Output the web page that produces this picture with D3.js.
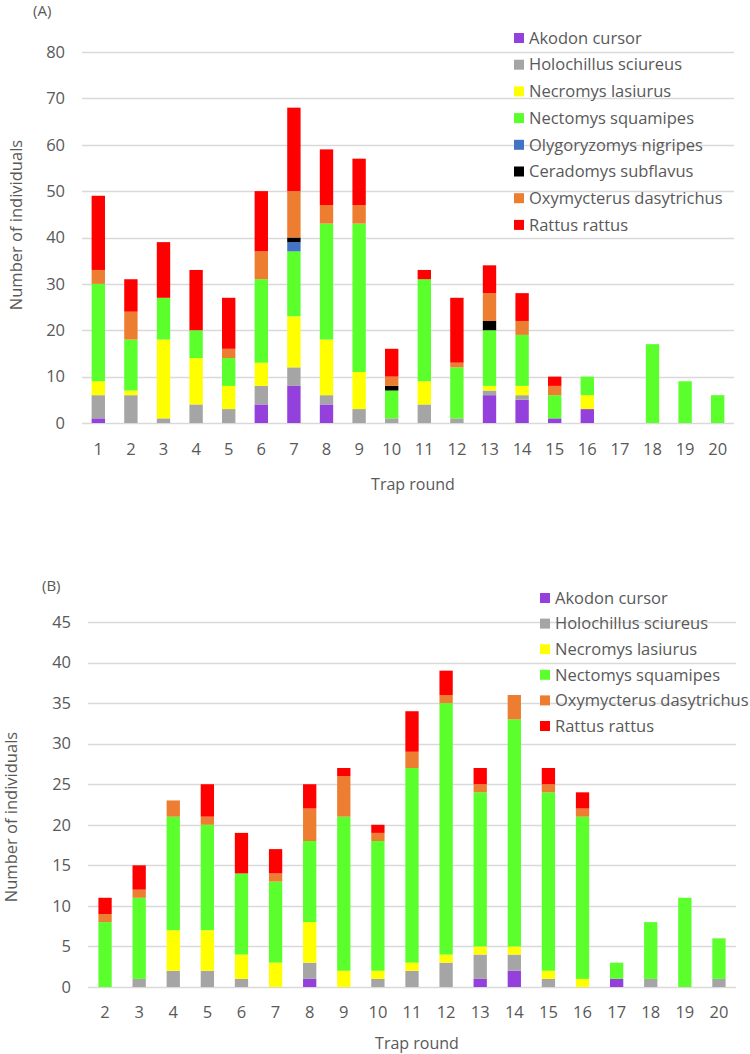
<!DOCTYPE html>
<html><head><meta charset="utf-8">
<script src="https://cdn.jsdelivr.net/npm/d3@7"></script>
<style>body{margin:0;background:#fff}svg text{font-family:"Open Sans",sans-serif;fill:#595959}</style>
</head><body>
<svg id="c" width="750" height="1054"></svg>
<script>
// ---- Data ----
const speciesA = ["Akodon cursor","Holochillus sciureus","Necromys lasiurus","Nectomys squamipes","Olygoryzomys nigripes","Ceradomys subflavus","Oxymycterus dasytrichus","Rattus rattus"];
const speciesB = ["Akodon cursor","Holochillus sciureus","Necromys lasiurus","Nectomys squamipes","Oxymycterus dasytrichus","Rattus rattus"];
const colors = {"Akodon cursor":"#9440dd","Holochillus sciureus":"#a5a5a5","Necromys lasiurus":"#ffff00","Nectomys squamipes":"#5bff2b","Olygoryzomys nigripes":"#4472c4","Ceradomys subflavus":"#000000","Oxymycterus dasytrichus":"#ed7d31","Rattus rattus":"#ff0000"};

const roundsA = [1,2,3,4,5,6,7,8,9,10,11,12,13,14,15,16,17,18,19,20];
const akodonA      = [1,0,0,0,0,4,8,4,0,0,0,0,6,5,1,3,0,0,0,0];
const holochillusA = [5,6,1,4,3,4,4,2,3,1,4,1,1,1,0,0,0,0,0,0];
const necromysA    = [3,1,17,10,5,5,11,12,8,0,5,0,1,2,0,3,0,0,0,0];
const nectomysA    = [21,11,9,6,6,18,14,25,32,6,22,11,12,11,5,4,0,17,9,6];
const olygoA       = [0,0,0,0,0,0,2,0,0,0,0,0,0,0,0,0,0,0,0,0];
const ceradomysA   = [0,0,0,0,0,0,1,0,0,1,0,0,2,0,0,0,0,0,0,0];
const oxymycterusA = [3,6,0,0,2,6,10,4,4,2,0,1,6,3,2,0,0,0,0,0];
const rattusA      = [16,7,12,13,11,13,18,12,10,6,2,14,6,6,2,0,0,0,0,0];
const ticksA = [0,10,20,30,40,50,60,70,80];

const roundsB = [2,3,4,5,6,7,8,9,10,11,12,13,14,15,16,17,18,19,20];
const akodonB      = [0,0,0,0,0,0,1,0,0,0,0,1,2,0,0,1,0,0,0];
const holochillusB = [0,1,2,2,1,0,2,0,1,2,3,3,2,1,0,0,1,0,1];
const necromysB    = [0,0,5,5,3,3,5,2,1,1,1,1,1,1,1,0,0,0,0];
const nectomysB    = [8,10,14,13,10,10,10,19,16,24,31,19,28,22,20,2,7,11,5];
const oxymycterusB = [1,1,2,1,0,1,4,5,1,2,1,1,3,1,1,0,0,0,0];
const rattusB      = [2,3,0,4,5,3,3,1,1,5,3,2,0,2,2,0,0,0,0];
const ticksB = [0,5,10,15,20,25,30,35,40,45];

const svg = d3.select("#c");

function panel(cfg){
  const {rounds, species, series, ticks, ymax, x0, x1, y0, y1, label, labelPos, legend, ytitle, xtitle} = cfg;
  const rows = rounds.map((r,i)=>{const o={round:String(r)}; species.forEach((s,k)=>o[s]=series[k][i]); return o;});
  const x = d3.scaleBand().domain(rounds.map(String)).range([x0,x1]).paddingInner(cfg.pad).paddingOuter(cfg.pad/2);
  const y = d3.scaleLinear().domain([0,ymax]).range([y0,y1]);
  const g = svg.append("g");
  // grid
  g.append("g").selectAll("line").data(ticks).join("line")
    .attr("x1",x0).attr("x2",x1).attr("y1",d=>Math.round(y(d))+0.5).attr("y2",d=>Math.round(y(d))+0.5)
    .attr("stroke","#d9d9d9").attr("stroke-width",1.3);
  // y axis labels
  const ya = g.append("g").attr("transform",`translate(${x0-10},0)`)
    .call(d3.axisLeft(y).tickValues(ticks).tickSize(0).tickPadding(7));
  ya.select(".domain").remove();
  ya.selectAll("text").attr("font-size",16.5).style("fill","#595959").attr("font-family","Open Sans");
  // x axis labels
  const xa = g.append("g").attr("transform",`translate(0,${y0})`)
    .call(d3.axisBottom(x).tickSize(0).tickPadding(cfg.xpad));
  xa.select(".domain").remove();
  xa.selectAll("text").attr("font-size",16.5).style("fill","#595959").attr("font-family","Open Sans");
  // stacks
  const stack = d3.stack().keys(species)(rows);
  g.append("g").selectAll("g").data(stack).join("g").attr("fill",d=>colors[d.key])
    .selectAll("rect").data(d=>d).join("rect")
    .attr("x",d=>x(d.data.round)).attr("width",x.bandwidth())
    .attr("y",d=>y(d[1])).attr("height",d=>Math.max(0,y(d[0])-y(d[1])));
  // titles
  g.append("text").attr("x",label[0]).attr("y",label[1]).attr("font-size",15).text(labelPos);
  g.append("text").attr("transform",`translate(${ytitle[0]},${ytitle[1]}) rotate(-90)`).attr("text-anchor","middle")
    .attr("font-size",16.5).text("Number of individuals");
  g.append("text").attr("x",xtitle[0]).attr("y",xtitle[1]).attr("text-anchor","middle").attr("font-size",16).text("Trap round");
  // legend
  const lg = g.append("g").selectAll("g").data(species).join("g")
    .attr("transform",(d,i)=>`translate(${legend.x},${legend.y + i*legend.dy})`);
  lg.append("rect").attr("x",0).attr("y",-5).attr("width",10).attr("height",10).attr("fill",d=>colors[d]);
  lg.append("text").attr("x",15).attr("y",0).attr("dy","0.35em").attr("font-size",16.5).text(d=>d);
}

panel({rounds:roundsA, species:speciesA,
  series:[akodonA,holochillusA,necromysA,nectomysA,olygoA,ceradomysA,oxymycterusA,rattusA],
  ticks:ticksA, ymax:80, x0:82, x1:734, y0:423, y1:52, pad:0.59, xpad:20,
  label:[33,16], labelPos:"(A)", legend:{x:514,y:38,dy:26.7}, ytitle:[22,225], xtitle:[413,490]});

panel({rounds:roundsB, species:speciesB,
  series:[akodonB,holochillusB,necromysB,nectomysB,oxymycterusB,rattusB],
  ticks:ticksB, ymax:45, x0:88, x1:736, y0:987, y1:622, pad:0.61, xpad:19,
  label:[42,591], labelPos:"(B)", legend:{x:540,y:598,dy:25.6}, ytitle:[17,817], xtitle:[417,1049]});
</script>
</body></html>
